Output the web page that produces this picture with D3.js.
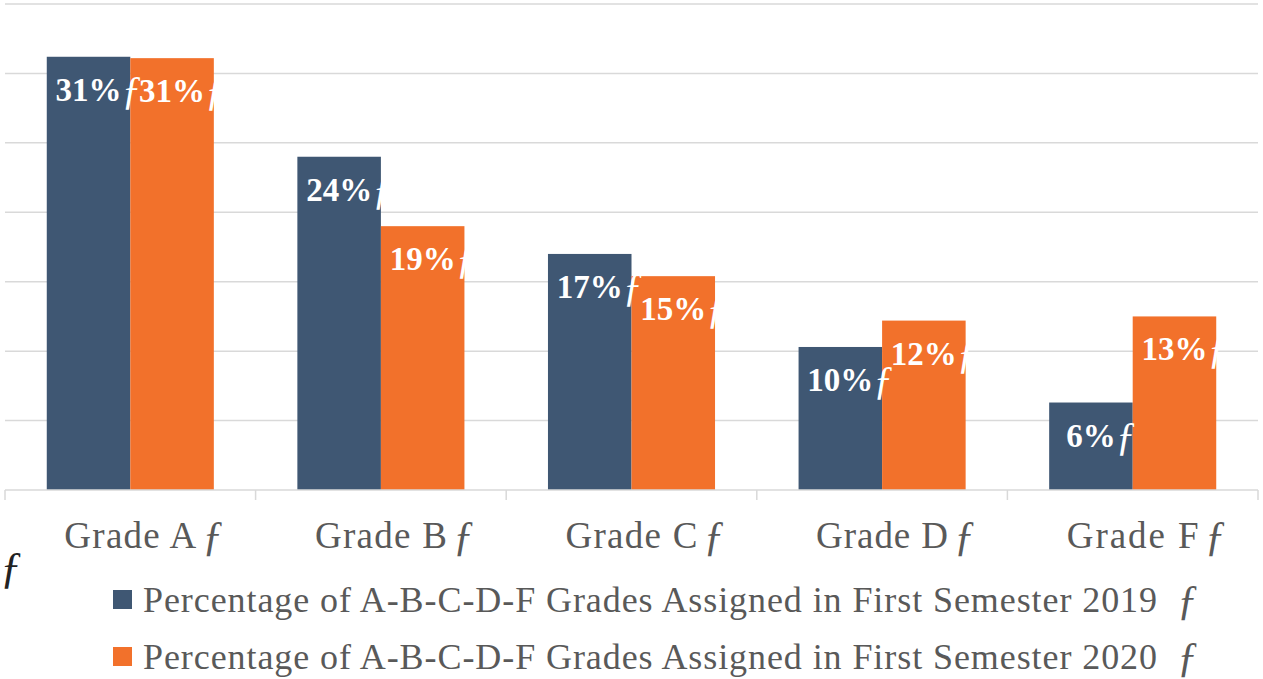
<!DOCTYPE html>
<html>
<head>
<meta charset="utf-8">
<script src="https://cdn.jsdelivr.net/npm/d3@7"></script>
<style>
  body { margin: 0; background: #fff; }
  svg { display: block; }
</style>
</head>
<body>
<div id="chart"></div>
<script>
var svgWidth = 1263;
var svgHeight = 679;

var categories = ["Grade A", "Grade B", "Grade C", "Grade D", "Grade F"];
var values2019 = [31.2, 24.0, 17.0, 10.3, 6.3];
var values2020 = [31.1, 19.0, 15.4, 12.2, 12.5];
var labels2019 = ["31%", "24%", "17%", "10%", "6%"];
var labels2020 = ["31%", "19%", "15%", "12%", "13%"];
var seriesNames = [
    "Percentage of A-B-C-D-F Grades Assigned in First Semester 2019",
    "Percentage of A-B-C-D-F Grades Assigned in First Semester 2020"
];
var gridTicks = [0, 5, 10, 15, 20, 25, 30, 35];

var colors = ["#3f5773", "#f2712b"];
var serif = "'Liberation Serif', 'DejaVu Serif', serif";

var svg = d3.select("#chart")
    .append("svg")
    .attr("width", svgWidth)
    .attr("height", svgHeight);

// scales
var xScale = d3.scaleBand()
    .domain(categories)
    .range([5, 1258])
    .paddingInner(0)
    .paddingOuter(0);

var xInner = d3.scaleBand()
    .domain([0, 1])
    .range([0, xScale.bandwidth()])
    .paddingOuter(0.5)
    .paddingInner(0);

var yScale = d3.scaleLinear()
    .domain([0, 35])
    .range([490, 4]);

// gridlines
svg.append("g")
    .selectAll("line")
    .data(gridTicks.slice(1))
    .enter()
    .append("line")
    .attr("x1", 5)
    .attr("x2", 1258)
    .attr("y1", d => yScale(d))
    .attr("y2", d => yScale(d))
    .attr("stroke", "#d9d9d9")
    .attr("stroke-width", 1.5);

// bars
var series = [values2019, values2020];
var seriesLabels = [labels2019, labels2020];

series.forEach(function (vals, s) {
    svg.append("g")
        .selectAll("rect")
        .data(vals)
        .enter()
        .append("rect")
        .attr("x", (d, i) => xScale(categories[i]) + xInner(s))
        .attr("y", d => yScale(d))
        .attr("width", xInner.bandwidth())
        .attr("height", d => yScale(0) - yScale(d))
        .attr("fill", colors[s]);
});

// bottom axis: line + ticks at band edges
var axisG = svg.append("g");
axisG.append("line")
    .attr("x1", 5).attr("x2", 1258)
    .attr("y1", yScale(0)).attr("y2", yScale(0))
    .attr("stroke", "#d9d9d9")
    .attr("stroke-width", 1.5);

var edges = categories.map(c => xScale(c)).concat([xScale.range()[1]]);
axisG.selectAll("line.tick")
    .data(edges)
    .enter()
    .append("line")
    .attr("class", "tick")
    .attr("x1", d => d).attr("x2", d => d)
    .attr("y1", yScale(0)).attr("y2", yScale(0) + 10)
    .attr("stroke", "#d9d9d9")
    .attr("stroke-width", 1.5);

// helper: centered text followed by a trailing "ƒ"
function labelWithF(g, cx, y, txt, size, weight, fill, fSize, gap, len) {
    var t = g.append("text")
        .attr("x", cx)
        .attr("y", y)
        .attr("text-anchor", "middle")
        .attr("font-family", serif)
        .attr("font-size", size)
        .attr("font-weight", weight)
        .attr("fill", fill)
        .text(txt);
    if (len) t.attr("textLength", len).attr("lengthAdjust", "spacing");
    var w = len || t.node().getComputedTextLength();
    g.append("text")
        .attr("x", cx + w / 2 + gap)
        .attr("y", y + 2)
        .attr("font-family", serif)
        .attr("font-size", fSize)
        .attr("font-style", "italic")
        .attr("fill", fill)
        .text("ƒ");
}

// value labels
var valueG = svg.append("g");
series.forEach(function (vals, s) {
    vals.forEach(function (v, i) {
        var cx = xScale(categories[i]) + xInner(s) + xInner.bandwidth() / 2;
        labelWithF(valueG, cx, yScale(v) + 44, seriesLabels[s][i], 33, "bold", "#fff", 40, 0, null);
    });
});

// category labels
var catG = svg.append("g");
categories.forEach(function (c) {
    labelWithF(catG, xScale(c) + xScale.bandwidth() / 2, 548, c, 37, "normal", "#595959", 42, 6, 132);
});

// stray axis title glyph
svg.append("text")
    .attr("x", 0)
    .attr("y", 582)
    .attr("font-family", serif)
    .attr("font-size", 44)
    .attr("font-style", "italic")
    .attr("fill", "#222")
    .text("ƒ");

// legend
var legend = svg.append("g");
seriesNames.forEach(function (name, s) {
    var y = 600 + s * 57;
    legend.append("rect")
        .attr("x", 113)
        .attr("y", y - 10)
        .attr("width", 19)
        .attr("height", 19)
        .attr("fill", colors[s]);
    legend.append("text")
        .attr("x", 143)
        .attr("y", y + 12)
        .attr("font-family", serif)
        .attr("font-size", 36)
        .attr("fill", "#595959")
        .attr("textLength", 1014)
        .attr("lengthAdjust", "spacing")
        .text(name);
    legend.append("text")
        .attr("x", 1177)
        .attr("y", y + 14)
        .attr("font-family", serif)
        .attr("font-size", 42)
        .attr("font-style", "italic")
        .attr("fill", "#595959")
        .text("ƒ");
});
</script>
</body>
</html>
